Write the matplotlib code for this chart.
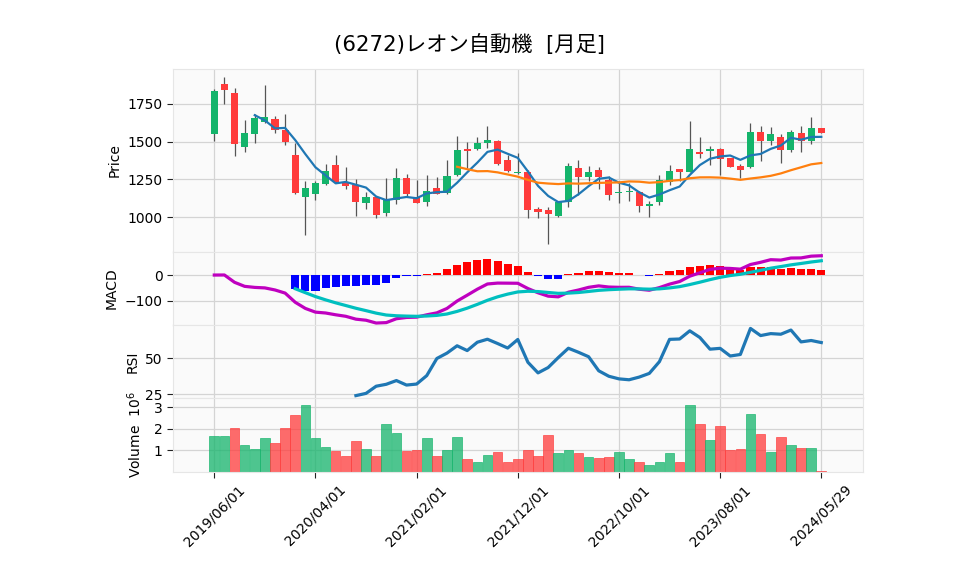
import matplotlib
matplotlib.use("Agg")
import matplotlib.pyplot as plt
import numpy as np
import pandas as pd

plt.rcParams['font.family'] = ['DejaVu Sans', 'Noto Sans CJK JP']
plt.rcParams['axes.unicode_minus'] = True

# monthly candles, 2019/06 .. 2024/05
opens = [1549, 1885, 1825, 1465, 1549, 1628, 1653, 1577, 1414, 1133,
         1150, 1219, 1347, 1232, 1210, 1091, 1133, 1027, 1111, 1259,
         1133, 1097, 1195, 1159, 1277, 1454, 1449, 1489, 1504, 1378,
         1290, 1299, 1055, 1049, 1005, 1097, 1325, 1263, 1312, 1246,
         1159, 1164, 1168, 1071, 1097, 1232, 1321, 1299, 1434, 1436,
         1454, 1392, 1341, 1330, 1566, 1502, 1533, 1442, 1557, 1502,
         1593]
highs = [1852, 1929, 1856, 1644, 1684, 1874, 1673, 1684, 1491, 1237,
         1237, 1354, 1414, 1332, 1252, 1164, 1137, 1257, 1325, 1288,
         1248, 1279, 1268, 1376, 1540, 1498, 1529, 1604, 1511, 1414,
         1425, 1312, 1066, 1064, 1109, 1356, 1376, 1339, 1330, 1270,
         1237, 1226, 1175, 1104, 1277, 1347, 1321, 1639, 1531, 1469,
         1458, 1392, 1354, 1624, 1606, 1600, 1553, 1580, 1606, 1664,
         1593]
lows = [1502, 1750, 1407, 1431, 1491, 1624, 1558, 1478, 1150, 881,
        1113, 1210, 1226, 1188, 1009, 1055, 993, 1009, 1086, 1142,
        1091, 1071, 1153, 1155, 1274, 1325, 1445, 1460, 1343, 1299,
        1288, 993, 993, 821, 998, 1064, 1148, 1237, 1188, 1113,
        1093, 1106, 1035, 1000, 1082, 1215, 1237, 1299, 1392, 1347,
        1281, 1330, 1259, 1325, 1369, 1480, 1358, 1429, 1431, 1485,
        1557]
closes = [1838, 1841, 1482, 1560, 1657, 1666, 1577, 1496, 1157, 1193,
          1228, 1308, 1232, 1204, 1100, 1133, 1011, 1113, 1259, 1150,
          1091, 1170, 1155, 1274, 1447, 1436, 1493, 1511, 1350, 1308,
          1301, 1044, 1031, 1018, 1102, 1341, 1263, 1301, 1263, 1144,
          1168, 1175, 1071, 1089, 1246, 1308, 1299, 1454, 1418, 1454,
          1385, 1330, 1310, 1566, 1502, 1553, 1442, 1566, 1502, 1593,
          1557]
# volume in millions of shares
volumes = [1.65, 1.65, 2.02, 1.24, 1.05, 1.56, 1.33, 2.02, 2.63, 3.09,
           1.56, 1.14, 0.96, 0.73, 1.42, 1.05, 0.73, 2.21, 1.79, 0.96,
           1.00, 1.56, 0.73, 1.00, 1.61, 0.59, 0.49, 0.77, 0.91, 0.49,
           0.59, 1.00, 0.73, 1.70, 0.87, 1.00, 0.87, 0.68, 0.63, 0.68,
           0.91, 0.59, 0.49, 0.31, 0.49, 0.87, 0.49, 3.09, 2.21, 1.47,
           2.12, 1.00, 1.05, 2.67, 1.75, 0.91, 1.61, 1.24, 1.10, 1.10,
           0.03]
tick_labels = ['2019/06/01', '2020/04/01', '2021/02/01', '2021/12/01',
               '2022/10/01', '2023/08/01', '2024/05/29']
title = '(6272)レオン自動機  [月足]'

up_color = '#14b46b'
down_color = '#ff3b3b'
bg = '#fafafa'
grid_color = '#d4d4d4'

df = pd.DataFrame({'open': opens, 'high': highs, 'low': lows,
                   'close': closes, 'volume': np.array(volumes) * 1e6})
x = np.arange(len(df))

# indicators derived from the closes
ma5 = df['close'].rolling(5).mean()
ma25 = df['close'].rolling(25).mean()
ema12 = df['close'].ewm(span=12, adjust=False).mean()
ema26 = df['close'].ewm(span=26, adjust=False).mean()
macd = ema12 - ema26
signal = macd.ewm(span=9, adjust=False, min_periods=9).mean()
hist = macd - signal
delta = df['close'].diff()
gain = delta.clip(lower=0).rolling(14).mean()
loss = (-delta.clip(upper=0)).rolling(14).mean()
rsi = 100 * gain / (gain + loss)

fig = plt.figure(figsize=(9.58, 5.75), dpi=100)
gs = fig.add_gridspec(4, 1, height_ratios=[183, 73, 73, 74], hspace=0,
                      left=0.1806, right=0.9008, top=0.88, bottom=0.179)
ax_p = fig.add_subplot(gs[0])
ax_m = fig.add_subplot(gs[1], sharex=ax_p)
ax_r = fig.add_subplot(gs[2], sharex=ax_p)
ax_v = fig.add_subplot(gs[3], sharex=ax_p)
axes = [ax_p, ax_m, ax_r, ax_v]

for ax in axes:
    ax.set_facecolor(bg)
    ax.grid(True, color=grid_color, linewidth=0.9)
    ax.set_axisbelow(True)
    for s in ax.spines.values():
        s.set_color('#e6e6e6')
        s.set_linewidth(0.8)
    ax.tick_params(axis='y', labelsize=10, length=4, color='#222222')
    ax.tick_params(axis='x', length=0, labelbottom=False)

# price panel
up = df['close'] >= df['open']
colors = np.where(up, up_color, down_color)
ax_p.vlines(x, df['low'], df['high'], color='#555555', linewidth=0.9, zorder=2)
body_lo = np.minimum(df['open'], df['close'])
body_h = np.maximum(np.abs(df['close'] - df['open']), 4)
ax_p.bar(x, body_h, bottom=body_lo, width=0.7, color=colors, zorder=3)
ax_p.plot(x, ma5, color='#1f77b4', linewidth=1.6, zorder=4)
ax_p.plot(x, ma25, color='#ff7f0e', linewidth=1.6, zorder=4)
ax_p.set_ylim(768, 1982)
ax_p.set_yticks([1000, 1250, 1500, 1750])
ax_p.set_ylabel('Price', fontsize=10)

# MACD panel
hist_colors = np.where(hist >= 0, 'r', 'b')
ax_m.bar(x, hist, width=0.8, color=hist_colors, zorder=2)
ax_m.plot(x, macd, color='m', linewidth=2.3, zorder=3)
ax_m.plot(x, signal, color='c', linewidth=2.3, zorder=3)
ax_m.set_ylim(-194.5, 89.5)
ax_m.set_yticks([-100, 0])
ax_m.set_ylabel('MACD', fontsize=10)

# RSI panel
ax_r.plot(x, rsi, color='#1f77b4', linewidth=2.3)
ax_r.set_ylim(22.2, 73.3)
ax_r.set_yticks([25, 50])
ax_r.set_ylabel('RSI', fontsize=10)

# volume panel, coloured by close vs previous close
prev_close = df['close'].shift(1).fillna(df['close'])
vcolors = np.where(df['close'] >= prev_close, up_color, down_color)
ax_v.bar(x, df['volume'], width=0.95, color=vcolors, alpha=0.75,
         edgecolor=vcolors, linewidth=0.6)
ax_v.set_ylim(0, 3.43e6)
ax_v.set_yticks([1e6, 2e6, 3e6])
ax_v.set_yticklabels(['1', '2', '3'])
ax_v.set_ylabel('Volume  $10^{6}$', fontsize=10, labelpad=7)

ax_v.set_xlim(-4.08, 64.12)
ax_v.set_xticks(np.arange(0, 61, 10))
ax_v.set_xticklabels(tick_labels)
ax_v.tick_params(axis='x', length=4, labelbottom=True, labelsize=10,
                 labelrotation=45, color='#222222')

fig.text(0.49, 0.922, title, ha='center', va='center', fontsize=15.3)

fig.savefig('out.png', dpi=100)
